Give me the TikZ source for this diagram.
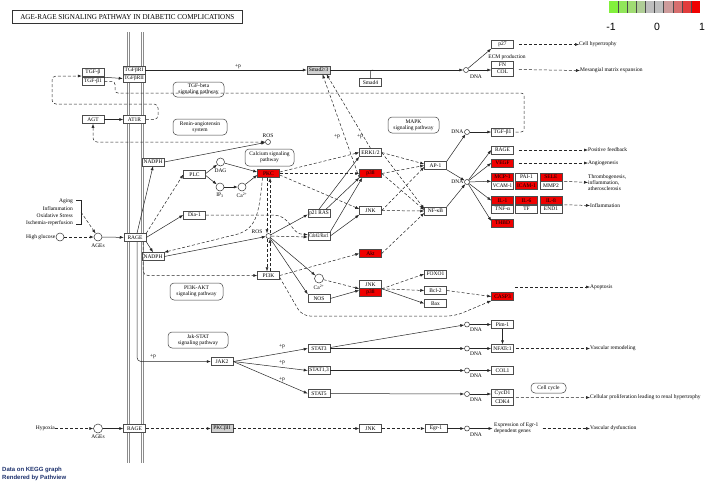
\documentclass[tikz,border=0pt]{standalone}
\usepackage{graphicx}
\usepackage{fontspec}
\setmainfont{Liberation Serif}
\newfontfamily\sansf{Liberation Sans}
\usetikzlibrary{arrows.meta}
\newlength\fitw
\newcommand\fl[1]{\settowidth\fitw{#1}\ifdim\fitw>19.5pt\pgfmathsetmacro\fitr{19.5pt/\fitw}\scalebox{\fitr}[1]{#1}\else#1\fi}
\newcommand\fitto[2]{\settowidth\fitw{#2}\pgfmathsetmacro\fitr{#1/\fitw}\scalebox{\fitr}[1]{#2}}
\definecolor{kred}{RGB}{240,0,0}
\definecolor{navyt}{RGB}{30,50,110}
\definecolor{lga}{RGB}{130,240,60}
\definecolor{lgb}{RGB}{145,230,90}
\definecolor{lgc}{RGB}{160,220,115}
\definecolor{lgd}{RGB}{175,205,150}
\definecolor{lge}{RGB}{190,190,190}
\definecolor{lgf}{RGB}{190,190,190}
\definecolor{lgg}{RGB}{205,155,155}
\definecolor{lgh}{RGB}{215,110,110}
\definecolor{lgi}{RGB}{225,60,60}
\definecolor{lgj}{RGB}{240,0,0}
\tikzset{
 gene/.style={draw=black!70, line width=0.5pt, fill=white, minimum width=22pt, minimum height=8pt, inner sep=0pt, font=\fontsize{5.5}{6}\selectfont},
 rgene/.style={gene, fill=kred},
 ggene/.style={gene, fill=black!18},
 pw/.style={draw=black!75, line width=0.5pt, rounded corners=4pt, align=center, inner sep=1pt, font=\fontsize{5.5}{6}\selectfont},
 cpd/.style={circle, draw=black!80, line width=0.5pt, fill=white, minimum size=8pt, inner sep=0pt},
 dna/.style={circle, draw=black!80, line width=0.5pt, fill=white, minimum size=5pt, inner sep=0pt},
 lbl/.style={font=\fontsize{5.5}{5.8}\selectfont, inner sep=0pt},
 ar/.style={draw=black!85, line width=0.5pt, -{Latex[length=4pt,width=3pt]}},
 dar/.style={ar, dash pattern=on 3pt off 2pt},
 ln/.style={draw=black!85, line width=0.5pt},
 dln/.style={ln, dash pattern=on 3pt off 2pt},
 memb/.style={draw=black!45, line width=0.6pt},
 both/.style={{Latex[length=4pt,width=3pt]}-{Latex[length=4pt,width=3pt]}}
}
\begin{document}
\begin{tikzpicture}[x=1pt,y=-1pt]
\useasboundingbox (0,0) rectangle (708,483);
\fill[white] (0,0) rectangle (708,483);
% membranes
\draw[memb] (127.6,32) -- (127.6,463);
\draw[memb] (129.4,32) -- (129.4,463);
\draw[memb] (141.1,32) -- (141.1,463);
\draw[memb] (142.9,32) -- (142.9,463);
% title
\node[draw=black!80, line width=0.7pt, minimum width=230pt, minimum height=13pt, anchor=north west, inner sep=0pt] (title) at (12,10) {\fontsize{7.5}{8}\selectfont\fitto{214pt}{AGE-RAGE SIGNALING PATHWAY IN DIABETIC COMPLICATIONS}};
% legend
\foreach \i/\c in {0/lga,1/lgb,2/lgc,3/lgd,4/lge,5/lgf,6/lgg,7/lgh,8/lgi,9/lgj}
  \fill[\c] (609+\i*9.1,1) rectangle (609+\i*9.1+9.1,13);
\foreach \i in {1,...,9} \draw[black!70, line width=0.4pt] (609+\i*9.1,1) -- (609+\i*9.1,13);
\node[font=\sansf\fontsize{10.5}{11}\selectfont] (lm) at (611,27) {-1};
\node[font=\sansf\fontsize{10.5}{11}\selectfont] (l0) at (657,27) {0};
\node[font=\sansf\fontsize{10.5}{11}\selectfont] (lp) at (702,27) {1};
\node[anchor=west, inner sep=0pt, text=navyt, font=\sansf\bfseries\fontsize{6}{6}\selectfont] (dk) at (2,470) {Data on KEGG graph};
\node[anchor=west, inner sep=0pt, text=navyt, font=\sansf\bfseries\fontsize{6}{6}\selectfont] (rp) at (2,478) {Rendered by Pathview};
% pathway boxes
\node[pw, minimum width=51pt, minimum height=15pt] (tgfbsp) at (198.5,89.5) {TGF-beta\\signaling pathway};
\node[pw, minimum width=54pt, minimum height=16pt] (renin) at (200,127) {Renin-angiotensin\\system};
\node[pw, minimum width=51pt, minimum height=16pt] (mapk) at (413.5,125) {MAPK\\signaling pathway};
\node[pw, minimum width=49pt, minimum height=17pt] (calc) at (269.5,157.5) {Calcium signaling\\pathway};
\node[pw, minimum width=53pt, minimum height=17pt] (pi3kakt) at (196.5,291.5) {PI3K-AKT\\signaling pathway};
\node[pw, minimum width=60pt, minimum height=16pt] (jakstat) at (198,340) {Jak-STAT\\signaling pathway};
\node[pw, minimum width=35pt, minimum height=10pt] (cellcyc) at (548.5,388) {Cell cycle};
% genes top-left
\node[gene] (tgfb) at (93,72.5) {\fl{TGF-β}};
\node[gene] (tgfb1) at (93,81.5) {\fl{TGF-β1}};
\node[gene] (tgfbr1) at (134,70) {\fl{TGFβRI}};
\node[gene] (tgfbr2) at (134,78.5) {\fl{TGFβRII}};
\node[gene] (agt) at (93,119.5) {\fl{AGT}};
\node[gene] (at1r) at (134.5,119.5) {\fl{AT1R}};
\node[ggene, minimum width=23pt] (smad23) at (318.5,70) {\fl{Smad2/3}};
\node[gene] (smad4) at (370.5,82.5) {\fl{Smad4}};
\node[gene] (p27) at (502.5,44.5) {\fl{p27}};
\node[gene, minimum height=7.5pt] (fn) at (502.5,64.5) {\fl{FN}};
\node[gene, minimum height=7.5pt] (col) at (502.5,72) {\fl{COL}};
\node[lbl] (ecm) at (507,57.5) {ECM production};
% RAGE area
\node[gene] (nadph1) at (153,162) {\fl{NADPH}};
\node[gene] (rage1) at (135,237.5) {\fl{RAGE}};
\node[gene] (nadph2) at (153,256.5) {\fl{NADPH}};
\node[gene] (plc) at (194.5,174.5) {\fl{PLC}};
\node[gene] (dia1) at (194.5,215) {\fl{Dia-1}};
\node[rgene] (pkc) at (268.5,173.5) {\fl{PKC}};
\node[gene] (erk) at (370.5,152.5) {\fl{ERK1/2}};
\node[rgene] (p38a) at (370.5,173.5) {\fl{p38}};
\node[gene] (jnka) at (370.5,210.5) {\fl{JNK}};
\node[gene] (ap1) at (435.5,165.5) {\fl{AP-1}};
\node[gene] (nfkb) at (435.5,211) {\fl{NF-κB}};
\node[gene] (p21ras) at (319,213.5) {\fl{p21 RAS}};
\node[gene] (cdc42) at (319,236) {\fl{Cdc42/Rac1}};
\node[rgene] (akt) at (370.5,253.5) {\fl{Akt}};
\node[gene] (pi3k) at (268.5,275.5) {\fl{PI3K}};
\node[gene] (nos) at (319,298.5) {\fl{NOS}};
\node[gene] (jnkb) at (370.5,284.5) {\fl{JNK}};
\node[rgene] (p38b) at (370.5,292.5) {\fl{p38}};
\node[gene] (foxo1) at (435.5,274) {\fl{FOXO1}};
\node[gene] (bcl2) at (435.5,290.5) {\fl{Bcl-2}};
\node[gene] (bax) at (435.5,303.5) {\fl{Bax}};
\node[rgene] (casp3) at (502.5,296.5) {\fl{CASP3}};
% right column
\node[gene] (tgfb1r) at (502.5,132) {\fl{TGF-β1}};
\node[gene] (rage2) at (502.5,150) {\fl{RAGE}};
\node[rgene] (vegf) at (502.5,163) {\fl{VEGF}};
\node[rgene] (mcp1) at (502.5,177) {\fl{MCP-1}};
\node[gene] (pai1) at (526.5,177) {\fl{PAI-1}};
\node[rgene] (sele) at (551,177) {\fl{SELE}};
\node[gene] (vcam1) at (502.5,185.5) {\fl{VCAM-1}};
\node[rgene] (icam1) at (526.5,185.5) {\fl{ICAM-1}};
\node[gene] (mmp2) at (551,185.5) {\fl{MMP2}};
\node[rgene] (il1) at (502.5,200.5) {\fl{IL-1}};
\node[rgene] (il6) at (526.5,200.5) {\fl{IL-6}};
\node[rgene] (il8) at (551,200.5) {\fl{IL-8}};
\node[gene] (tnfa) at (502.5,209) {\fl{TNF-α}};
\node[gene] (tf) at (526.5,209) {\fl{TF}};
\node[gene] (end1) at (551,209) {\fl{END1}};
\node[rgene] (thbd) at (502.5,223) {\fl{THBD}};
% lower
\node[gene] (jak2) at (222,361.5) {\fl{JAK2}};
\node[gene] (stat3) at (319,348.5) {\fl{STAT3}};
\node[gene] (stat13) at (319,370.5) {\fl{STAT1,3}};
\node[gene] (stat5) at (319,393.5) {\fl{STAT5}};
\node[gene] (pim1) at (502.5,324.5) {\fl{Pim-1}};
\node[gene] (nfatc1) at (502.5,348.5) {\fl{NFATc1}};
\node[gene] (col1) at (502.5,370.5) {\fl{COL1}};
\node[gene] (cycd1) at (502.5,393.5) {\fl{CycD1}};
\node[gene] (cdk4) at (502.5,401.5) {\fl{CDK4}};
\node[gene] (rage3) at (134.5,428.5) {\fl{RAGE}};
\node[ggene] (pkcb2) at (222,428.5) {\fl{PKCβII}};
\node[gene] (jnkc) at (370.5,428.5) {\fl{JNK}};
\node[gene] (egr1) at (436,428.5) {\fl{Egr-1}};
% compounds
\node[dna] (ros1) at (268,142) {};
\node[lbl] (ros1l) at (268,135.5) {ROS};
\node[dna] (ros2) at (268.5,236) {};
\node[lbl] (ros2l) at (257,232) {ROS};
\node[cpd] (hg) at (60,237) {};
\node[lbl, anchor=east] (hgl) at (55.5,237) {High glucose};
\node[cpd] (ages1) at (98,237) {};
\node[lbl] (ages1l) at (98,245.5) {AGEs};
\node[cpd] (dag) at (220.5,162) {};
\node[lbl] (dagl) at (220.5,170.5) {DAG};
\node[cpd] (ip3) at (220,187) {};
\node[lbl] (ip3l) at (220,195.5) {IP\textsubscript{3}};
\node[cpd] (ca1) at (242,187) {};
\node[lbl] (ca1l) at (242,195.5) {Ca\textsuperscript{2+}};
\node[cpd, minimum size=9pt] (ca2) at (319,278.5) {};
\node[lbl] (ca2l) at (319,287.5) {Ca\textsuperscript{2+}};
\node[cpd, minimum size=9pt] (ages2) at (98,428.5) {};
\node[lbl] (ages2l) at (98,436.5) {AGEs};
\node[dna] (dna1) at (466,70) {};
\node[lbl] (dna1l) at (476,76.5) {DNA};
\node[dna] (dna2) at (467,132) {};
\node[lbl, anchor=east] (dna2l) at (463.5,132) {DNA};
\node[dna] (dna3) at (467,182) {};
\node[lbl, anchor=east] (dna3l) at (463.5,182) {DNA};
\node[dna] (dna4) at (467,324.5) {};
\node[lbl] (dna4l) at (476,329.5) {DNA};
\node[dna] (dna5) at (467,348.5) {};
\node[lbl] (dna5l) at (476,353.5) {DNA};
\node[dna] (dna6) at (467,370.5) {};
\node[lbl] (dna6l) at (476,376) {DNA};
\node[dna] (dna7) at (467,394) {};
\node[lbl] (dna7l) at (476,400) {DNA};
\node[dna] (dna8) at (467,428.5) {};
\node[lbl] (dna8l) at (476,435) {DNA};
% free texts
\node[lbl, anchor=east] (t1) at (73,201) {Aging};
\node[lbl, anchor=east] (t2) at (73,208.5) {Inflammation};
\node[lbl, anchor=east] (t3) at (73,216) {Oxidative Stress};
\node[lbl, anchor=east] (t4) at (73,223.5) {Ischemia-reperfusion};
\node[lbl, anchor=east] (hyp) at (55,428.5) {Hypoxia};
\node[lbl, anchor=west] (cht) at (579,44.5) {Cell hypertrophy};
\node[lbl, anchor=west] (mme) at (580,70.5) {Mesangial matrix expansion};
\node[lbl, anchor=west] (pf) at (588,150) {Positive feedback};
\node[lbl, anchor=west] (ang) at (588,163) {Angiogenesis};
\node[lbl, anchor=west, align=left] (thr) at (588,182.5) {Thrombogenesis,\\inflammation,\\atherosclerosis};
\node[lbl, anchor=west] (inf) at (590,205.5) {Inflammation};
\node[lbl, anchor=west] (apo) at (590,287) {Apoptosis};
\node[lbl, anchor=west] (vr) at (590,348.5) {Vascular remodeling};
\node[lbl, anchor=west] (cp) at (590,397.5) {Cellular proliferation leading to renal hypertrophy};
\node[lbl, anchor=west, align=left] (expr) at (494,428.5) {Expression of Egr-1\\dependent genes};
\node[lbl, anchor=west] (vd) at (590,428.5) {Vascular dysfunction};
\node[lbl] (pp1) at (238,67) {+p};
\node[lbl] (pp2) at (337,137) {+p};
\node[lbl] (pp3) at (360,137) {+p};
\node[lbl] (pp4) at (153,357) {+p};
\node[lbl] (pp5) at (282,346.5) {+p};
\node[lbl] (pp6) at (282,363) {+p};
\node[lbl] (pp7) at (282,379.5) {+p};
\coordinate (brk) at (81,212);
\coordinate (apos) at (515,287);
% ---------- edges ----------
\draw[ar] (tgfbr1) -- (smad23);
\draw[ln, rounded corners=2pt] (smad4.north) |- (373,70);
\draw[ar] (smad23) -- (dna1);
\draw[ar] (dna1) -- (p27.south west);
\draw[ar] (dna1) -- (dna1 -| fn.west);
\draw[dar] ([xshift=5pt]p27.east) -- (cht.west);
\draw[dar] ([xshift=5pt,yshift=-1pt]fn.south east) -- (mme.west);
\draw[ar] (tgfb1.north east) -- (tgfbr2.west);
\draw[dar, rounded corners=4pt] (at1r.east) -- (158,119.5) -- (158,104) -- (52,104) -- (52,76) -- ([yshift=-3.5pt]tgfb.west);
\draw[dln, rounded corners=3pt] (tgfb1.east) -- (115,81.5) -- (115,93) -- (524,93) -- (524,132) -- (tgfb1r.east);
\draw[ar] (agt) -- (at1r);
\draw[dar, both, rounded corners=4pt] (agt.south) |- (ros1.west);
\draw[ar] (nadph1.east) -- (ros1);
\draw[ar] ([xshift=2pt]rage1.north) -- (nadph1.south);
\draw[dar] (rage1.north east) -- (plc.west);
\draw[ar] (rage1.east) -- (dia1.west);
\draw[ar] (rage1.south east) -- (nadph2.north);
\draw[ar] (ages1) -- (rage1);
\draw[dar] (hg) -- (ages1);
\draw[ln] (76,200) -- (81,200) -- (81,224) -- (76,224);
\draw[dar] (brk) -- (ages1);
\draw[ar, rounded corners=4pt] ([xshift=2pt]rage1.south) |- (jak2.west);
\draw[dar, rounded corners=5pt] ([xshift=8pt]rage1.south) |- (pi3k.west);
\draw[ar] ([yshift=1pt]plc.east) -- (dag);
\draw[ar] ([yshift=-1pt]plc.east) -- (ip3);
\draw[ar] (ip3) -- (ca1);
\draw[ar] (dag) -- ([yshift=1.5pt]pkc.west);
\draw[ar] (ca1) -- ([yshift=-1.5pt]pkc.west);
\draw[dar] ([xshift=-1.5pt]pkc.south) -- ([xshift=-1.5pt]ros2.north);
\draw[dar] ([xshift=1.5pt]ros2.north) -- ([xshift=1.5pt]pkc.south);
\draw[dar] ([xshift=-1.5pt]ros2.south) -- ([xshift=-1.5pt]pi3k.north);
\draw[dar] ([xshift=1.5pt]pi3k.north) -- ([xshift=1.5pt]ros2.south);
\draw[dar] ([xshift=-6pt]pkc.south) .. controls (259,215) and (256,228) .. (238,234) -- (nadph2.north east);
\draw[ar] (nadph2.east) -- (ros2);
\draw[dar] (dia1.east) -- (272,215) .. controls (292,215) and (290,234.5) .. ([yshift=1.5pt]cdc42.west);
\draw[ar] (ros2) -- ([yshift=-1pt]p21ras.west);
\draw[dar] (ros2) -- ([yshift=-1pt]cdc42.west);
\draw[ar] (ros2) -- (ca2);
\draw[ar] (ros2) -- (nos.north west);
\draw[dar] (pi3k.east) -- (akt.west);
\draw[dar, rounded corners=8pt] ([yshift=-2pt]pi3k.east) -- (302,316) -- (455,316) -- (casp3.south west);
\draw[dar] (ca2) -- (jnkb.south west);
\draw[ar] (nos.east) -- ([yshift=-1.5pt]jnkb.south west);
\draw[dar] (jnkb.south east) -- (foxo1.west);
\draw[dar] (jnkb.south east) -- (bcl2.west);
\draw[ar] (jnkb.south east) -- (bax.west);
\draw[dar] (bcl2.east) -- (casp3.west);
\draw[dar] ([yshift=1.5pt]pkc.east) -- (erk.west);
\draw[dar] (pkc) -- (p38a);
\draw[dar] ([yshift=-1.5pt]pkc.east) -- ([yshift=1.5pt]jnka.west);
\draw[ar] (p21ras.north) -- (erk.south west);
\draw[ar] ([xshift=7pt]p21ras.north) -- (p38a.south west);
\draw[ar] (cdc42.north east) -- ([xshift=3pt]p38a.south west);
\draw[ar] (cdc42.east) -- (jnka.south west);
\draw[dar] (erk.east) -- ([yshift=1.5pt]ap1.west);
\draw[dar] (erk.east) -- ([yshift=2pt]nfkb.west);
\draw[dar] (p38a.east) -- (ap1.west);
\draw[dar] (p38a.east) -- ([yshift=1pt]nfkb.west);
\draw[dar] (jnka.east) -- ([yshift=-1.5pt]ap1.west);
\draw[dar] (jnka.east) -- (nfkb.west);
\draw[dar] (akt.east) -- ([yshift=-2pt]nfkb.west);
\draw[dar] (p38a.south west) -- ([xshift=4pt]smad23.south);
\draw[dar] (erk.north) -- ([xshift=8pt]smad23.south);
\draw[ar] (ap1.north east) -- (dna2);
\draw[ar] (ap1.south east) -- (dna3);
\draw[ar] (nfkb.north east) -- (dna3);
\draw[ar] (dna2) -- (tgfb1r);
\draw[ar] (dna3) -- (rage2.west);
\draw[ar] (dna3) -- (vegf.west);
\draw[ar] (dna3) -- (mcp1.south west);
\draw[ar] (dna3) -- (il1.west);
\draw[ar] (dna3) -- ([yshift=2pt]thbd.west);
\draw[dar] ([xshift=5pt]rage2.east) -- (pf.west);
\draw[dar] ([xshift=5pt]vegf.east) -- (ang.west);
\draw[dar] ([xshift=2pt]sele.south east) -- (thr.west);
\draw[dar] ([xshift=2pt]end1.north east) -- (inf.west);
\draw[dar] (apos) -- (apo.west);
\draw[ar] (jak2.east) -- (stat3.west);
\draw[ar] (jak2.east) -- (stat13.west);
\draw[ar] (jak2.east) -- (stat5.west);
\draw[ar] ([yshift=1pt]stat3.east) -- (dna4);
\draw[ar] (stat3.east) -- (dna5);
\draw[ar] (stat13) -- (dna6);
\draw[ar] (stat5) -- (dna7);
\draw[ar] (dna4) -- (pim1);
\draw[ar] (pim1) -- (nfatc1);
\draw[ar] (dna5) -- (nfatc1);
\draw[ar] (dna6) -- (col1);
\draw[ar] (dna7) -- (dna7 -| cycd1.west);
\draw[dar] ([xshift=2pt]nfatc1.east) -- (vr.west);
\draw[dar] ([xshift=2pt]cdk4.north east) -- (cp.west);
\draw[dar] (hyp.east) -- (ages2);
\draw[ar] (ages2) -- (rage3);
\draw[dar] (rage3) -- (pkcb2);
\draw[dar] (pkcb2) -- (jnkc);
\draw[dar] (jnkc) -- (egr1);
\draw[ar] (egr1) -- (dna8);
\draw[ar] (dna8) -- ([xshift=-1.5pt]expr.west);
\draw[dar] ([xshift=4pt]expr.east) -- (vd.west);
\end{tikzpicture}
\end{document}
